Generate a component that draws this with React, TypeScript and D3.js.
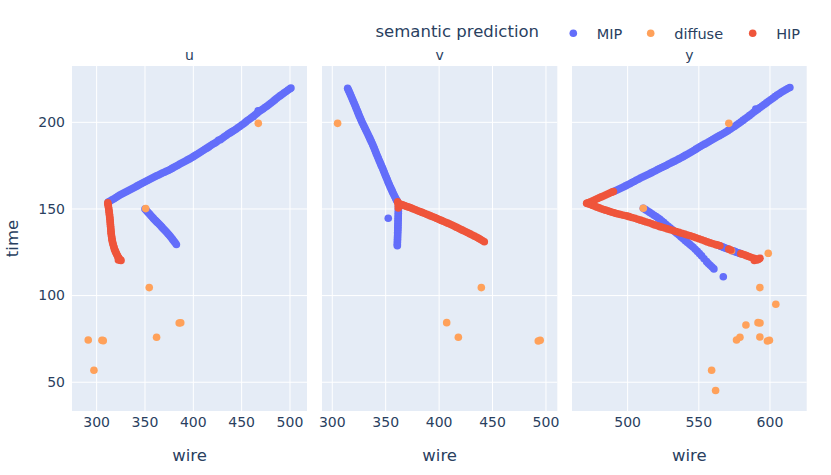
import React from "react";
import * as d3 from "d3";

// ---------- data (wire, time) ----------
const panelNames = ["u", "v", "y"];
const seriesNames = ["MIP", "diffuse", "HIP"];
const seriesColors = ["#636efa", "#FFA15A", "#EF553B"];

const uTicksX = [300, 350, 400, 450, 500];
const vTicksX = [300, 350, 400, 450, 500];
const yTicksX = [500, 550, 600];
const timeTicks = [50, 100, 150, 200];

const uMIP: [number, number][] = [
  [312, 154.0], [314, 154.6], [316, 155.3], [318, 155.9], [320, 156.6], [322, 157.3], [324, 158.0], [326, 158.6],
  [328, 159.2], [330, 159.8], [332, 160.3], [334, 160.9], [336, 161.5], [338, 162.1], [340, 162.7], [342, 163.3],
  [344, 163.9], [346, 164.5], [348, 165.1], [350, 165.7], [352, 166.3], [354, 166.8], [356, 167.4], [358, 168.0],
  [360, 168.6], [362, 169.1], [364, 169.6], [366, 170.2], [368, 170.7], [370, 171.2], [372, 171.7], [374, 172.2],
  [376, 172.8], [378, 173.4], [380, 174.0], [382, 174.6], [384, 175.2], [386, 175.9], [388, 176.5], [390, 177.1],
  [392, 177.7], [394, 178.3], [396, 178.9], [398, 179.5], [400, 180.2], [402, 180.9], [404, 181.6], [406, 182.3],
  [408, 183.0], [410, 183.7], [412, 184.4], [414, 185.1], [416, 185.8], [418, 186.6], [420, 187.3], [422, 187.9],
  [424, 188.6], [426, 189.6], [428, 190.0], [430, 190.8], [432, 191.6], [434, 192.4], [436, 193.2], [438, 193.9],
  [440, 194.6], [442, 195.3], [444, 196.0], [446, 196.8], [448, 197.6], [450, 198.4], [452, 199.2], [454, 200.1],
  [456, 201.0], [458, 201.8], [460, 202.6], [462, 203.4], [464, 204.3], [466, 205.3], [467, 206.6], [468, 206.2],
  [470, 206.9], [472, 207.7], [474, 208.5], [476, 209.3], [478, 210.1], [480, 211.0], [482, 211.9], [484, 212.8],
  [486, 213.7], [488, 214.6], [490, 215.4], [492, 216.2], [494, 217.0], [496, 217.8], [498, 218.6], [500, 219.4],
  [501, 219.8],
  [350, 150.0], [351.25, 149.2], [352.5, 148.4], [353.75, 147.65], [355, 146.9], [356.25, 146.1], [357.5, 145.3],
  [358.75, 144.55], [360, 143.8], [361.25, 143.1], [362.5, 142.4], [363.75, 141.7], [365, 141.0], [366.25, 140.25],
  [367.5, 139.5], [368.75, 138.75], [370, 138.0], [371.25, 137.25], [372.5, 136.5], [373.75, 135.7], [375, 134.9],
  [376.25, 134.05], [377.5, 133.2], [378.75, 132.3], [380, 131.4], [381.25, 130.45], [382.5, 129.5],
];
const uDiffuse: [number, number][] = [
  [467.2, 199.4], [350.7, 150.2], [354.4, 104.6], [385.4, 84.2], [387.0, 84.3], [362, 76.0],
  [291.3, 74.4], [305.5, 74.2], [306.8, 74.0], [297.2, 56.9],
];
const uHIP: [number, number][] = [
  [311.5, 153.5], [311.75, 152.75], [312.0, 152], [312.25, 151], [312.5, 150], [312.75, 149], [313.0, 148],
  [313.2, 147], [313.4, 146], [313.6, 145], [313.8, 144], [313.95, 143], [314.1, 142], [314.25, 141], [314.4, 140],
  [314.55, 139], [314.7, 138], [314.85, 137], [315.0, 136], [315.25, 135], [315.5, 134], [315.75, 133], [316.0, 132],
  [316.4, 131], [316.8, 130], [317.3, 129], [317.8, 128], [318.3, 127.1], [318.8, 126.3], [319.4, 125.5],
  [320.0, 124.8], [320.6, 124.0], [321.3, 123.3], [321.9, 122.6], [322.5, 122], [323.0, 121.5], [323.5, 121],
  [324.0, 120.7], [324.5, 120.5], [325.2, 120.3], [322.5, 120.6],
];

const vMIP: [number, number][] = [
  [314.4, 219.6], [315.0, 218.8], [315.6, 218], [316.3, 217], [317.0, 216], [317.7, 215], [318.4, 214], [319.1, 213],
  [319.8, 212], [320.5, 211], [321.2, 210], [321.9, 209], [322.5, 208], [323.2, 207], [323.8, 206], [324.5, 205],
  [325.1, 204], [325.8, 203], [326.5, 202], [327.2, 201], [327.9, 200], [328.7, 199], [329.5, 198], [330.3, 197],
  [331.1, 196], [331.9, 195], [332.7, 194], [333.5, 193], [334.2, 192], [335.0, 191], [335.7, 190], [336.5, 189],
  [337.2, 188], [337.9, 187], [338.6, 186], [339.3, 185], [339.9, 184], [340.6, 183], [341.2, 182], [341.9, 181],
  [342.6, 180], [343.3, 179], [343.9, 178], [344.6, 177], [345.3, 176], [346.0, 175], [346.7, 174], [347.4, 173],
  [348.0, 172], [348.7, 171], [349.3, 170], [350.0, 169], [350.7, 168], [351.4, 167], [352.0, 166], [352.7, 165],
  [353.4, 164], [354.1, 163], [354.8, 162], [355.6, 161], [356.3, 160], [357.0, 159], [357.8, 158], [358.6, 157],
  [359.4, 156], [360.1, 155.2], [360.8, 154.5],
  [362.0, 151.5], [362.0, 150.5], [361.9, 149.5], [361.85, 148.5], [361.8, 147.5], [361.75, 146.5], [361.7, 145.5],
  [361.65, 144.5], [361.6, 143.5], [361.55, 142.5], [361.5, 141.5], [361.45, 140.5], [361.4, 139.5], [361.35, 138.5],
  [361.3, 137.5], [361.25, 136.5], [361.2, 135.5], [361.15, 134.5], [361.1, 133.5], [361.05, 132.5], [361.0, 131.5],
  [360.95, 130.5], [360.9, 129.5], [360.9, 128.8],
  [352.4, 144.6],
];
const vDiffuse: [number, number][] = [
  [305, 199.4], [439.5, 104.6], [407.1, 84.4], [418, 76.0], [492.8, 73.8], [494.6, 74.2],
];
const vHIP: [number, number][] = [
  [361.2, 154.2], [361.6, 152.5], [361.8, 150.6], [363.4, 152.9], [364.7, 152.6], [366, 152.3], [367.5, 152.0],
  [369, 151.6], [370.9, 151.2], [372.8, 150.8], [374.4, 150.4], [376, 150], [378, 149.5], [380, 149], [382, 148.5],
  [384, 148], [386.2, 147.45], [388.4, 146.9], [390.2, 146.45], [392, 146], [394, 145.5], [396, 145], [398, 144.45],
  [400, 143.9], [402, 143.4], [403.9, 142.9], [406, 142.35], [408, 141.8], [410, 141.25], [412, 140.7], [414, 140.1],
  [416, 139.5], [417.8, 138.95], [419.6, 138.4], [421.3, 137.9], [423, 137.4], [425, 136.8], [427, 136.2],
  [429, 135.6], [431, 135], [433.1, 134.3], [435.2, 133.6], [436.9, 133.05], [438.5, 132.5], [440.4, 131.8],
  [442.3, 131.1],
];

const yMIP: [number, number][] = [
  [491, 160.4], [492.5, 160.95], [494, 161.5], [495.5, 162.1], [497, 162.7], [498.5, 163.3], [500, 163.9],
  [501.5, 164.55], [503, 165.2], [504.5, 165.85], [506, 166.5], [507.5, 167.15], [509, 167.8], [510.5, 168.4],
  [512, 169.0], [513.5, 169.6], [515, 170.2], [516.5, 170.8], [518, 171.4], [519.5, 172.05], [521, 172.7],
  [522.5, 173.3], [524, 173.9], [525.5, 174.5], [527, 175.1], [528.5, 175.75], [530, 176.4], [531.5, 177.0],
  [533, 177.6], [534.5, 178.25], [536, 178.9], [537.5, 179.55], [539, 180.2], [540.5, 180.9], [542, 181.6],
  [543.5, 182.3], [545, 183.0], [546.5, 183.75], [548, 184.5], [549.5, 185.25], [551, 186.0], [552.5, 186.7],
  [554, 187.4], [555.5, 188.1], [557, 188.8], [558.5, 189.5], [560, 190.2], [561.5, 190.9], [563, 191.6],
  [564.5, 192.3], [566, 193.0], [567.5, 193.7], [569, 194.4], [570.5, 195.2], [572, 196.0], [573.5, 196.8],
  [575, 197.6], [576.5, 198.45], [578, 199.3], [579.5, 200.2], [581, 201.1], [582.5, 202.0], [584, 202.9],
  [585.5, 203.85], [587, 204.8], [588.5, 205.75], [590, 206.7], [590, 207.6], [591.5, 207.6], [593, 208.5],
  [594.5, 209.4], [596, 210.3], [597.5, 211.2], [599, 212.1], [600.5, 213.0], [602, 213.9], [603.5, 214.8],
  [605, 215.7], [606.5, 216.5], [608, 217.3], [609.5, 218.05], [611, 218.8], [612.5, 219.45], [614, 220.1],
  [511, 150.4], [512.5, 149.6], [514, 148.8], [515.5, 148.0], [517, 147.2], [518.5, 146.4], [520, 145.6],
  [521.4, 144.8], [522.7, 144.0], [524.1, 143.05], [525.5, 142.1], [527, 141.05], [528.5, 140.0], [530, 139.0],
  [531.5, 138.0], [533, 137.0], [534.4, 136.0], [536, 134.9], [537.5, 133.8], [539, 132.75], [540.5, 131.7],
  [542, 130.7], [543.5, 129.7], [544.8, 128.8], [546.1, 127.9], [547.5, 126.7], [549, 125.5], [550.5, 124.2],
  [552, 122.9], [553.7, 121.25], [555.5, 119.6], [556.7, 118.55], [558, 117.5], [559.3, 116.45], [560.6, 115.4],
  [567.2, 110.9],
  [565, 128.6], [566, 128.3], [567, 127.95], [568, 127.6], [569, 127.3], [570, 127.0],
  [574, 125.8], [575, 125.5], [576, 125.2], [577, 124.9], [578, 124.6], [579, 124.3],
];
const yDiffuse: [number, number][] = [
  [571.1, 199.4], [511, 150.4], [573, 125.9], [598.8, 124.4], [592.9, 104.6], [604.1, 95.0], [583.1, 83.0],
  [591.6, 84.4], [593.0, 84.2], [592.9, 76.1], [576.5, 74.4], [578.9, 76.0], [598.2, 73.8], [599.6, 74.2],
  [559, 56.9], [561.8, 45.2],
];
const yHIP: [number, number][] = [
  [471.5, 153.3], [472.7, 153.75], [474, 154.2], [475.5, 154.75], [477, 155.3], [478.5, 155.85], [480, 156.4],
  [481.5, 156.95], [483, 157.5], [484.5, 158.05], [486, 158.6], [487.5, 159.15], [489, 159.7], [490, 160.05],
  [471.2, 153.3], [472.6, 152.9], [474, 152.5], [475.5, 152.0], [477, 151.5], [478.5, 151.05], [480, 150.6],
  [481.5, 150.15], [483, 149.7], [484.5, 149.3], [486, 148.9], [487.5, 148.5], [489, 148.1], [490.5, 147.75],
  [492, 147.4], [493.5, 147.1], [495, 146.8], [497, 146.4], [499.3, 146], [501, 145.55], [503, 145.1],
  [505, 144.6], [507, 144.1], [509, 143.55], [511, 143.0], [513, 142.5], [515, 142], [517, 141.4], [519, 140.8],
  [521, 140.3], [522.7, 139.8], [524.3, 139.4], [526, 139], [528, 138.5], [530, 138], [532, 137.5], [534, 137],
  [536, 136.5], [538, 136], [540, 135.5], [542, 135], [544, 134.5], [546.1, 134], [548, 133.4], [550, 132.8],
  [552, 132.2], [554, 131.6], [556, 131.0], [558, 130.4], [560, 129.9], [562, 129.4], [563.4, 129.1],
  [564.8, 128.8], [571, 126.8], [572.5, 126.3], [579.5, 124.2], [580.7, 123.85], [582, 123.5], [583.5, 123.05],
  [585, 122.6], [586.5, 122.15], [588, 121.7], [589.3, 121.35], [590.6, 121], [592, 121], [593, 121.5],
  [589, 120.3], [591, 120.5],
];

const xDomains: [number, number][] = [
  [274.5, 517.6],
  [290.4, 510.6],
  [460.9, 625.8],
];
const timeDomain: [number, number] = [33.4, 232.5];

const panelData = [
  [uMIP, uDiffuse, uHIP],
  [vMIP, vDiffuse, vHIP],
  [yMIP, yDiffuse, yHIP],
];
const panelTicks = [uTicksX, vTicksX, yTicksX];

// ---------- layout ----------
const W = 831;
const H = 475;
const panelX: [number, number][] = [
  [72, 307],
  [322, 557.3],
  [572, 806.7],
];
const plotTop = 66;
const plotBottom = 411;
const FONT = "'DejaVu Sans', Verdana, sans-serif";
const TEXT = "#2a3f5f";
const R = 3.8;

export default function App() {
  const yScale = d3.scaleLinear().domain(timeDomain).range([plotBottom, plotTop]);
  return (
    <div style={{ position: "absolute", left: 0, top: 0 }}>
      <svg width={W} height={H} style={{ display: "block", background: "#fff" }} fontFamily={FONT}>
        {panelNames.map((name, pi) => {
          const [x0, x1] = panelX[pi];
          const xScale = d3.scaleLinear().domain(xDomains[pi]).range([x0, x1]);
          return (
            <g key={name}>
              <rect x={x0} y={plotTop} width={x1 - x0} height={plotBottom - plotTop} fill="#E5ECF6" />
              {panelTicks[pi].map((t) => (
                <line key={"gx" + t} x1={xScale(t)} x2={xScale(t)} y1={plotTop} y2={plotBottom} stroke="#fff" strokeWidth={1} />
              ))}
              {timeTicks.map((t) => (
                <line key={"gy" + t} x1={x0} x2={x1} y1={yScale(t)} y2={yScale(t)} stroke="#fff" strokeWidth={1} />
              ))}
              <clipPath id={"clip" + pi}>
                <rect x={x0} y={plotTop} width={x1 - x0} height={plotBottom - plotTop} />
              </clipPath>
              <g clipPath={`url(#clip${pi})`}>
                {panelData[pi].map((pts, si) => (
                  <g key={si} fill={seriesColors[si]}>
                    {pts.map((p, k) => (
                      <circle key={k} cx={xScale(p[0])} cy={yScale(p[1])} r={R} />
                    ))}
                  </g>
                ))}
              </g>
              {panelTicks[pi].map((t) => (
                <text key={"tx" + t} x={xScale(t)} y={427} textAnchor="middle" fontSize={14} fill={TEXT}>
                  {t}
                </text>
              ))}
              <text x={(x0 + x1) / 2} y={461} textAnchor="middle" fontSize={16.5} fill={TEXT}>
                wire
              </text>
              <text x={(x0 + x1) / 2} y={60} textAnchor="middle" fontSize={14} fill={TEXT}>
                {name}
              </text>
            </g>
          );
        })}
        {timeTicks.map((t) => (
          <text key={"ty" + t} x={65} y={yScale(t)} dy="0.35em" textAnchor="end" fontSize={14} fill={TEXT}>
            {t}
          </text>
        ))}
        <text transform={`translate(18,${(plotTop + plotBottom) / 2}) rotate(-90)`} textAnchor="middle" fontSize={16.5} fill={TEXT}>
          time
        </text>
        {/* legend */}
        <text x={375.5} y={37} fontSize={16.5} fill={TEXT}>
          semantic prediction
        </text>
        {seriesNames.map((s, i) => {
          const mx = [573.3, 650.7, 752.7][i];
          return (
            <g key={s}>
              <circle cx={mx} cy={33.3} r={R} fill={seriesColors[i]} />
              <text x={mx + 23.5} y={38.5} fontSize={14.5} fill={TEXT}>
                {s}
              </text>
            </g>
          );
        })}
      </svg>
    </div>
  );
}
